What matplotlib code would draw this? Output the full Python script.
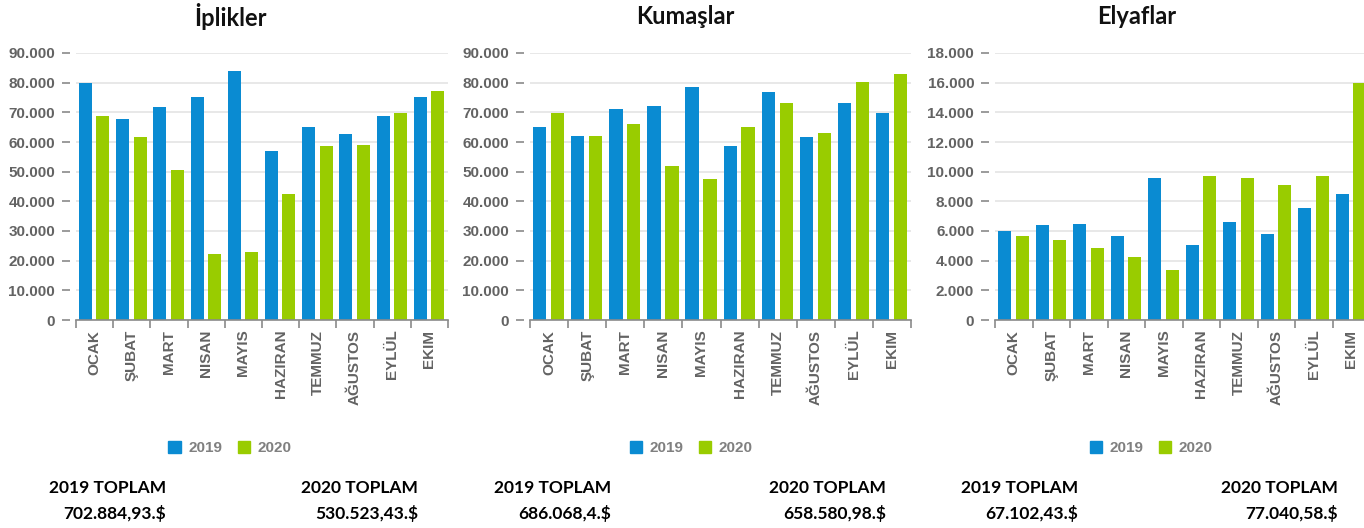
import matplotlib
matplotlib.use("Agg")
import matplotlib.pyplot as plt
from matplotlib.patches import Rectangle
from matplotlib.ticker import FuncFormatter, MultipleLocator
import numpy as np

months = ["OCAK", "ŞUBAT", "MART", "NISAN", "MAYIS", "HAZIRAN",
          "TEMMUZ", "AĞUSTOS", "EYLÜL", "EKIM"]

titles = ["İplikler", "Kumaşlar", "Elyaflar"]

iplik_2019 = [79800, 67600, 71700, 75200, 83800, 57100, 65200, 62600, 68700, 75200]
iplik_2020 = [68700, 61600, 50400, 22400, 22800, 42500, 58700, 59100, 69800, 77200]

kumas_2019 = [65200, 62100, 71100, 72100, 78700, 58500, 76700, 61600, 73100, 69800]
kumas_2020 = [69800, 62100, 66100, 52000, 47400, 65100, 73100, 63100, 80200, 82800]

elyaf_2019 = [5980, 6380, 6470, 5660, 9600, 5060, 6580, 5780, 7570, 8470]
elyaf_2020 = [5660, 5370, 4850, 4250, 3370, 9690, 9600, 9080, 9690, 15960]

series_labels = ["2019", "2020"]
totals_2019 = ["702.884,93.$", "686.068,4.$", "67.102,43.$"]
totals_2020 = ["530.523,43.$", "658.580,98.$", "77.040,58.$"]

y_max = [90000, 90000, 18000]
y_step = [10000, 10000, 2000]

BLUE = "#0A8BD2"
GREEN = "#99CC00"
TICK_GRAY = "#636363"

W, H = 1364, 528
fig = plt.figure(figsize=(W / 100, H / 100), dpi=100)

# axes pixel extents: (left, right)
extents = [(76, 448), (530, 911), (995, 1370)]
top_px, bottom_px = 53, 320

legend_centers = [230, 691, 1151]
title_centers = [231, 685, 1137]
tot19_right = [166, 611, 1078]
tot20_right = [418, 886, 1338]

data = [(iplik_2019, iplik_2020), (kumas_2019, kumas_2020), (elyaf_2019, elyaf_2020)]

def thousands(v, pos):
    return f"{int(v):,}".replace(",", ".")

lab_font = ["Liberation Sans", "DejaVu Sans"]
txt_font = ["Lato", "Open Sans", "DejaVu Sans"]

for i, ((s19, s20), (l, r)) in enumerate(zip(data, extents)):
    ax = fig.add_axes([l / W, 1 - bottom_px / H, (r - l) / W, (bottom_px - top_px) / H])
    x = np.arange(len(months))
    w = 0.35
    ax.bar(x - 0.245, s19, width=w, color=BLUE, zorder=3)
    ax.bar(x + 0.225, s20, width=w, color=GREEN, zorder=3)
    ax.set_xlim(-0.5, len(months) - 0.5)
    ax.set_ylim(0, y_max[i])
    ax.yaxis.set_major_locator(MultipleLocator(y_step[i]))
    ax.yaxis.set_major_formatter(FuncFormatter(thousands))
    ax.grid(axis="y", color="#e6e6e6", linewidth=1.3, zorder=0)
    for sp in ["top", "right", "left"]:
        ax.spines[sp].set_visible(False)
    ax.spines["left"].set_position(("outward", 4))
    ax.spines["bottom"].set_color("#8a8a8a")
    ax.spines["bottom"].set_linewidth(1.2)
    ax.spines["bottom"].set_zorder(4)
    ax.tick_params(axis="y", length=6, width=1.2, color="#8a8a8a", pad=5,
                   labelsize=11, labelcolor=TICK_GRAY)
    # x ticks at boundaries (marks), labels at centers
    ax.set_xticks(np.arange(len(months) + 1) - 0.5)
    ax.set_xticklabels([])
    ax.set_xticks(x, minor=True)
    ax.set_xticklabels(months, minor=True, rotation=90, fontsize=11,
                       color=TICK_GRAY, fontweight="bold", family=lab_font)
    ax.tick_params(axis="x", which="major", length=6, width=1.2, color="#8a8a8a")
    ax.tick_params(axis="x", which="minor", length=0, pad=7)
    for t in ax.get_yticklabels():
        t.set_fontweight("bold")
        t.set_family(lab_font)

    # title
    fig.text(title_centers[i] / W, 1 - 17 / H, titles[i], ha="center", va="center",
             fontsize=17, fontweight="bold", color="#111111", family=txt_font)

    # legend
    handles = [Rectangle((0, 0), 1, 1, color=BLUE), Rectangle((0, 0), 1, 1, color=GREEN)]
    fig.legend(handles, series_labels, loc="center", ncol=2,
               bbox_to_anchor=(legend_centers[i] / W, 1 - 448 / H),
               frameon=False, handlelength=0.8, handleheight=0.8, handletextpad=0.5,
               columnspacing=1.0,
               prop={"family": ["Liberation Sans Narrow", "Liberation Sans"],
                     "weight": "bold", "size": 11}, labelcolor="#808080")

    # totals
    fig.text(tot19_right[i] / W, 1 - 488 / H, f"{series_labels[0]} TOPLAM", ha="right",
             va="center", fontsize=12.5, fontweight="bold", color="#000000", family=txt_font)
    fig.text(tot19_right[i] / W, 1 - 514 / H, totals_2019[i], ha="right",
             va="center", fontsize=12.5, fontweight="bold", color="#000000", family=txt_font)
    fig.text(tot20_right[i] / W, 1 - 488 / H, f"{series_labels[1]} TOPLAM", ha="right",
             va="center", fontsize=12.5, fontweight="bold", color="#000000", family=txt_font)
    fig.text(tot20_right[i] / W, 1 - 514 / H, totals_2020[i], ha="right",
             va="center", fontsize=12.5, fontweight="bold", color="#000000", family=txt_font)

fig.savefig("out.png", dpi=100, facecolor="white")
